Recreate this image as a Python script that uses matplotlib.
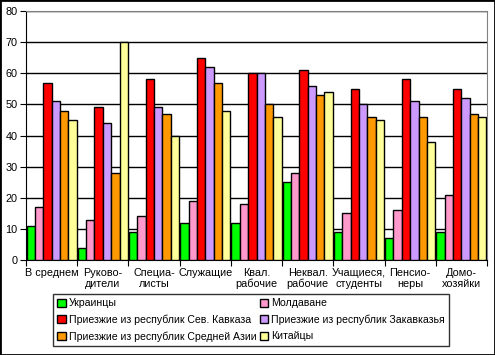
import matplotlib.pyplot as plt
import matplotlib.patches as mpatches
import numpy as np

# Data
groups = ['В среднем', 'Руково-\nдители', 'Специа-\nлисты', 'Служащие', 'Квал.\nрабочие',
          'Неквал.\nрабочие', 'Учащиеся,\nстуденты', 'Пенсио-\nнеры', 'Домо-\nхозяйки']
series_names = ['Украинцы', 'Молдаване', 'Приезжие из республик Сев. Кавказа',
                'Приезжие из республик Закавказья', 'Приезжие из республик Средней Азии', 'Китайцы']
ukr = [11, 4, 9, 12, 12, 25, 9, 7, 9]
mold = [17, 13, 14, 19, 18, 28, 15, 16, 21]
kavkaz = [57, 49, 58, 65, 60, 61, 55, 58, 55]
zakavk = [51, 44, 49, 62, 60, 56, 50, 51, 52]
asia = [48, 28, 47, 57, 50, 53, 46, 46, 47]
china = [45, 70, 40, 48, 46, 54, 45, 38, 46]
values = [ukr, mold, kavkaz, zakavk, asia, china]
colors = ['#00FF00', '#FF99CC', '#FF0000', '#CC99FF', '#FF9900', '#FFFF99']

plt.rcParams['font.family'] = ['Liberation Sans', 'DejaVu Sans']
plt.rcParams['font.size'] = 7.6

fig = plt.figure(figsize=(4.95, 3.55), dpi=100)
ax = fig.add_axes([26 / 495, 1 - 260 / 355, 461 / 495, 249 / 355])

n = len(values)
w = 0.98 / n
x = np.arange(len(groups))
for i, (vals, c) in enumerate(zip(values, colors)):
    ax.bar(x - 0.49 + w * (i + 0.5), vals, width=w, color=c, edgecolor='black',
           linewidth=1, zorder=3)

ax.set_xlim(-0.5, len(groups) - 0.5)
ax.set_ylim(0, 80)
ax.set_yticks(range(0, 81, 10))
ax.yaxis.grid(True, color='black', linewidth=1, zorder=0)
ax.set_xticks(np.arange(len(groups) + 1) - 0.5)
ax.set_xticklabels([])
ax.set_xticks(x, minor=True)
ax.set_xticklabels(groups, minor=True, linespacing=1.05, fontsize=7.8)
ax.tick_params(axis='x', which='minor', length=0, pad=6)
ax.tick_params(axis='x', which='major', length=4, direction='out', color='black')
ax.tick_params(axis='y', length=4, direction='out', pad=2, labelsize=7.8)
for s in ['top', 'right']:
    ax.spines[s].set_color('#808080')
ax.spines['left'].set_color('black')
ax.spines['bottom'].set_color('black')

handles = [mpatches.Patch(facecolor=c, edgecolor='black', label=l) for c, l in zip(colors, series_names)]
order = [0, 2, 4, 1, 3, 5]
leg = fig.legend([handles[i] for i in order], [series_names[i] for i in order], ncol=2,
                 loc='upper left', bbox_to_anchor=(53 / 495, 1 - 294 / 355),
                 frameon=True, fancybox=False, edgecolor='black', handlelength=0.8,
                 handleheight=0.8, handletextpad=0.3, columnspacing=0.3, borderpad=0.4,
                 labelspacing=0.6, borderaxespad=0, fontsize=7.6)
leg.get_frame().set_linewidth(1)

fig.patches.append(mpatches.Rectangle((0, 0), 1, 1, transform=fig.transFigure,
                                      fill=False, edgecolor='black', linewidth=2))

plt.savefig('out.png', dpi=100)
